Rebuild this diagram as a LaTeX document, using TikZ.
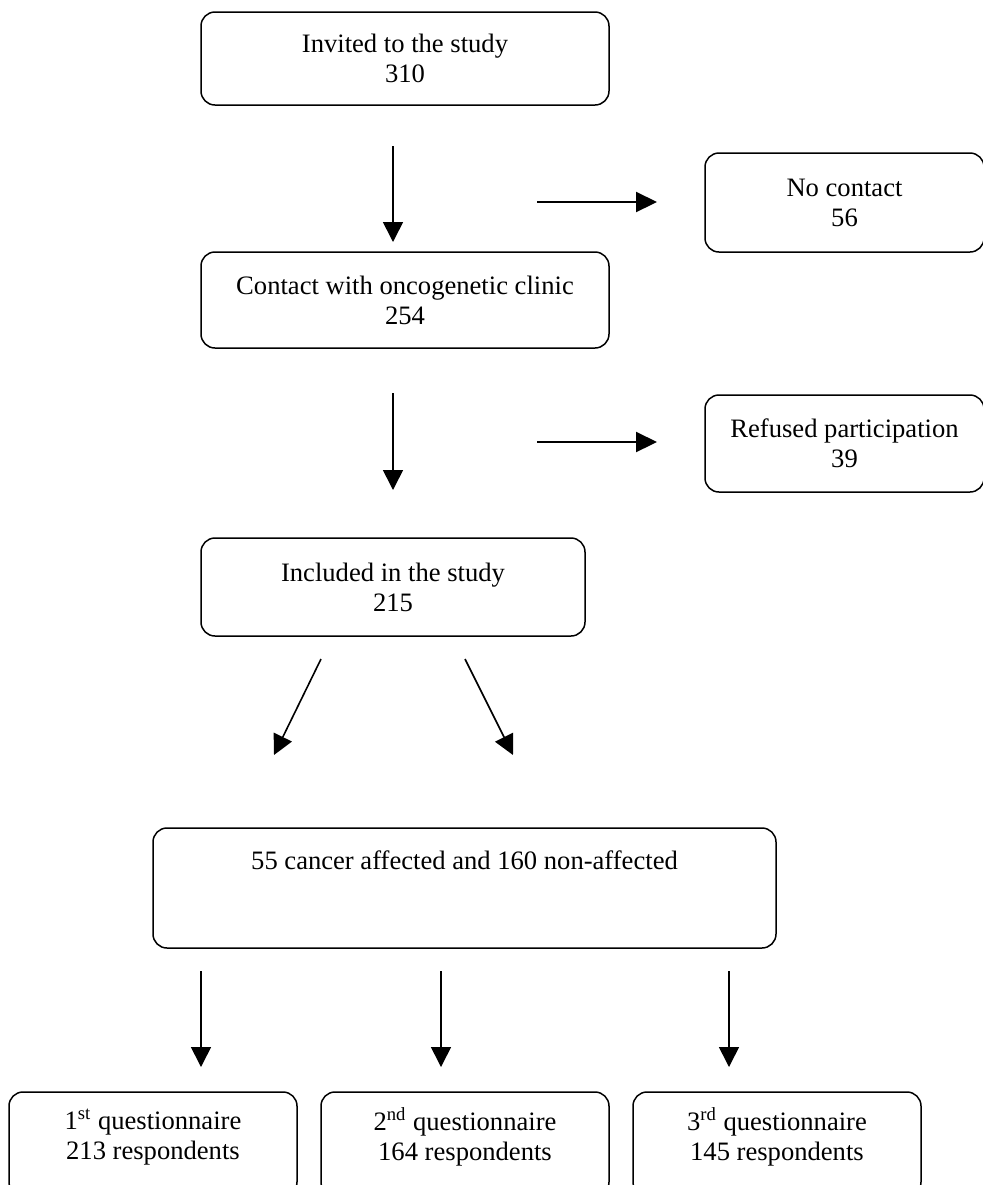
\documentclass[tikz,border=0pt]{standalone}
\usepackage{fontspec}
\setmainfont{Liberation Serif}
\usetikzlibrary{arrows.meta}
\begin{document}
\begin{tikzpicture}[x=0.5pt,y=-0.5pt,
  box/.style={draw, line width=0.75pt, rounded corners=7pt, inner sep=0pt, align=center,
    font=\fontsize{13.3}{15}\selectfont},
  txt/.style={inner sep=0pt, align=center, font=\fontsize{13.3}{15}\selectfont},
  qbox/.style={box, minimum width=144pt, minimum height=52pt, text depth=10pt},
  arr/.style={line width=0.8pt, -{Triangle[length=10pt,width=10pt]}},
  harr/.style={line width=1.1pt, -{Triangle[length=10.5pt,width=10pt]}}]
\useasboundingbox (0,0) rectangle (983,1185);
\clip (0,0) rectangle (983,1185);
% boxes
\node[box, minimum width=204pt, minimum height=46.5pt] (inv) at (405,58.5) {Invited to the study\\310};
\node[box, minimum width=204pt, minimum height=48pt] (con) at (405,300) {Contact with oncogenetic clinic\\254};
\node[box, minimum width=139.5pt, minimum height=49.5pt] (noc) at (844.5,202.5) {No contact\\56};
\node[box, minimum width=139.5pt, minimum height=48.5pt] (ref) at (844.5,443.5) {Refused participation\\39};
\node[box, minimum width=192pt, minimum height=49pt] (inc) at (393,587) {Included in the study\\215};
\node[box, minimum width=311.5pt, minimum height=60pt] (grp) at (464.5,888) {};
\node[txt] (grpt) at (464.5,860) {55 cancer affected and 160 non-affected};
\node[qbox] (q1) at (153,1144) {1\textsuperscript{st} questionnaire\\213 respondents};
\node[qbox] (q2) at (465,1144) {2\textsuperscript{nd} questionnaire\\164 respondents};
\node[qbox] (q3) at (777,1144) {3\textsuperscript{rd} questionnaire\\145 respondents};
% arrow end points
\coordinate (a1s) at (393,146); \coordinate (a1e) at (393,242);
\coordinate (h1s) at (537,202); \coordinate (h1e) at (657,202);
\coordinate (a2s) at (393,393); \coordinate (a2e) at (393,490);
\coordinate (h2s) at (537,442); \coordinate (h2e) at (657,442);
\coordinate (d1s) at (321,659); \coordinate (d1e) at (274,755);
\coordinate (d2s) at (465,659); \coordinate (d2e) at (513,755);
\coordinate (b1s) at (201,971); \coordinate (b1e) at (201,1067);
\coordinate (b2s) at (441,971); \coordinate (b2e) at (441,1067);
\coordinate (b3s) at (729,971); \coordinate (b3e) at (729,1067);
% arrows
\draw[arr] (a1s) -- (a1e);
\draw[harr] (h1s) -- (h1e);
\draw[arr] (a2s) -- (a2e);
\draw[harr] (h2s) -- (h2e);
\draw[arr] (d1s) -- (d1e);
\draw[arr] (d2s) -- (d2e);
\draw[arr] (b1s) -- (b1e);
\draw[arr] (b2s) -- (b2e);
\draw[arr] (b3s) -- (b3e);
\end{tikzpicture}
\end{document}
